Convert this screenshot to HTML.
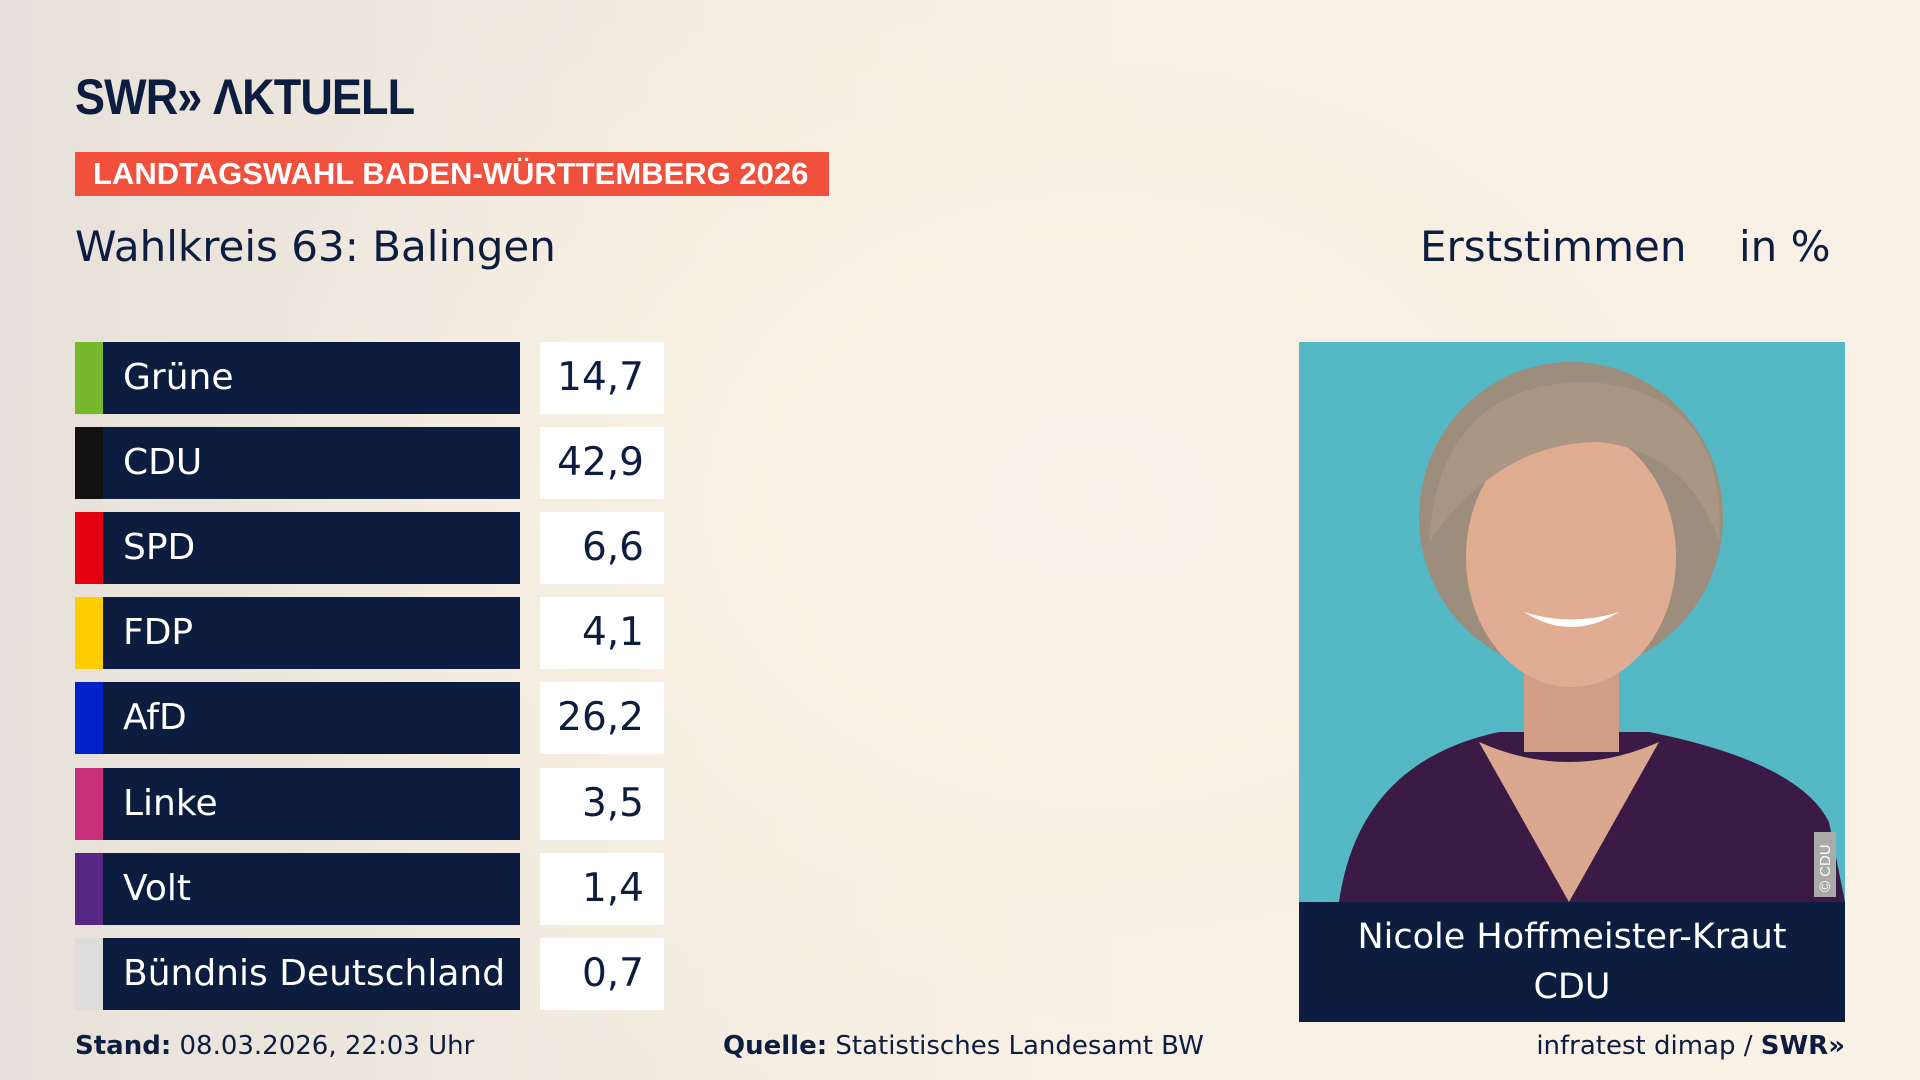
<!DOCTYPE html>
<html><head><meta charset="utf-8">
<style>
*{margin:0;padding:0;box-sizing:border-box}
body{width:1920px;height:1080px;overflow:hidden;font-family:"DejaVu Sans","Liberation Sans",sans-serif;color:#0c1d3f;
background:radial-gradient(ellipse 900px 700px at 1100px 500px,#fbf3e9 0%,#f8efe3 50%,rgba(248,239,227,0) 100%),linear-gradient(90deg,#e6e1da 0%,#f3ebe0 35%,#f9f1e6 60%,#f9f1e6 100%);position:relative}
.abs{position:absolute}
#logo{left:75px;top:68px;font-family:"Liberation Sans",sans-serif;font-size:50px;font-weight:bold;letter-spacing:-1px;color:#0c1d3f;white-space:nowrap;transform:scaleX(0.9);transform-origin:left}
#banner{left:75px;top:152px;width:754px;height:44px;background:#f0503c;color:#fff;font-family:"Liberation Sans",sans-serif;font-weight:bold;font-size:31px;line-height:44px;padding-left:18px;white-space:nowrap}
#title{left:75px;top:222px;font-size:42px;white-space:nowrap}
#erst{left:1420px;top:222px;font-size:42px}
#inp{left:1739px;top:222px;font-size:42px}
.strip{position:absolute;left:75px;width:28px;height:72px}
.bar{position:absolute;left:103px;width:417px;height:72px;background:#0c1d3f;color:#fff;font-size:36px;line-height:72px;padding-left:20px;white-space:nowrap}
.val{position:absolute;left:540px;width:124px;height:72px;background:#fff;color:#0c1d3f;font-size:39px;line-height:72px;text-align:right;padding-right:20px}
#photo{left:1299px;top:342px;width:546px;height:560px;background:#54b8c5;overflow:hidden}
#namebox{left:1299px;top:902px;width:546px;height:120px;background:#0c1d3f;color:#fff;text-align:center;font-size:35px;line-height:50px;padding-top:10px}
.foot{top:1031px;font-size:26px;white-space:nowrap}
</style></head>
<body>
<div class="abs" id="logo">SWR» ΛKTUELL</div>
<div class="abs" id="banner">LANDTAGSWAHL BADEN-WÜRTTEMBERG 2026</div>
<div class="abs" id="title">Wahlkreis 63: Balingen</div>
<div class="abs" id="erst">Erststimmen</div>
<div class="abs" id="inp">in %</div>
<div id="rows"></div>
<div class="abs" id="photo">
<svg width="546" height="560" viewBox="0 0 546 560">
<path d="M40 560 Q60 420 200 390 L350 390 Q500 420 530 480 L546 560 Z" fill="#3b1a45"/>
<path d="M180 400 L270 560 L360 400 Q270 440 180 400Z" fill="#d9a88e"/>
<rect x="225" y="300" width="95" height="110" fill="#d29d85"/>
<ellipse cx="272" cy="175" rx="152" ry="155" fill="#9d8d7c"/>
<ellipse cx="272" cy="215" rx="105" ry="130" fill="#e0ad93"/>
<path d="M130 200 Q140 40 290 40 Q430 50 420 200 Q390 110 300 100 Q200 100 130 200Z" fill="#a99783"/>
<path d="M225 270 Q272 300 320 270 Q272 285 225 270Z" fill="#fff"/>
<rect x="515" y="490" width="22" height="65" fill="#aaa"/>
<text x="531" y="550" transform="rotate(-90 531 550)" font-size="15" fill="#fff" font-family="Liberation Sans">© CDU</text>
</svg>
</div>
<div class="abs" id="namebox">Nicole Hoffmeister-Kraut<br>CDU</div>
<div class="abs foot" style="left:75px"><b>Stand:</b> 08.03.2026, 22:03 Uhr</div>
<div class="abs foot" style="left:723px"><b>Quelle:</b> Statistisches Landesamt BW</div>
<div class="abs foot" style="right:75px">infratest dimap / <b>SWR»</b></div>
<script>
const parties=["Grüne","CDU","SPD","FDP","AfD","Linke","Volt","Bündnis Deutschland"];
const values=[14.7,42.9,6.6,4.1,26.2,3.5,1.4,0.7];
const partyColors=["#76b82a","#111111","#e3000f","#ffcc00","#0020c8","#c8307e","#562883","#dddddd"];
const rows=document.getElementById('rows');
const top0=342,step=85.1;
parties.forEach((p,i)=>{
 const y=top0+i*step;
 const s=document.createElement('div');s.className='strip';s.style.top=y+'px';s.style.background=partyColors[i];
 
 
 const b=document.createElement('div');b.className='bar';b.style.top=y+'px';b.textContent=p;
 
 
 const v=document.createElement('div');v.className='val';v.style.top=y+'px';v.textContent=values[i].toFixed(1).replace('.',',');
 
 
 rows.append(s,b,v);
});
</script>
</body></html>
